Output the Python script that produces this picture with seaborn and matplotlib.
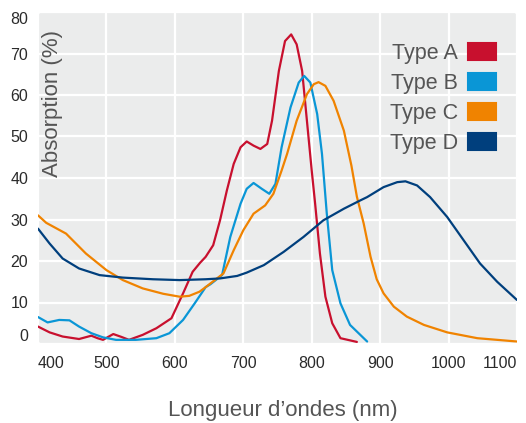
import matplotlib
matplotlib.use("Agg")
import matplotlib.pyplot as plt
from matplotlib import font_manager
from matplotlib.patches import Patch, FancyBboxPatch
import seaborn as sns
import pandas as pd

# absorption curves (wavelength nm, absorption %)
type_a_x = [400, 417, 436, 460, 478, 487, 495, 510, 522, 533, 553, 573, 595, 612, 626, 637,
            645, 656, 666, 676, 686, 696, 705, 715, 725, 735, 742, 752, 761, 770, 778, 786,
            793, 800, 805, 812, 820, 830, 842, 866]
type_a_y = [4.2, 2.8, 1.8, 1.2, 2.0, 1.4, 1.0, 2.4, 1.7, 1.0, 2.2, 3.8, 6.2, 12.2, 17.4, 19.6,
            21.0, 23.8, 29.8, 37.0, 43.4, 47.4, 48.8, 47.8, 47.0, 48.2, 53.8, 65.8, 73.0, 74.6,
            72.2, 65.8, 53.8, 41.8, 33.8, 21.8, 11.4, 5.0, 1.4, 0.5]

type_b_x = [400, 414, 431, 446, 460, 478, 495, 514, 543, 573, 592, 612, 629, 645, 652, 669,
            681, 696, 705, 715, 727, 738, 747, 756, 769, 781, 789, 798, 808, 815, 822, 830,
            842, 856, 881]
type_b_y = [6.5, 5.2, 5.8, 5.7, 4.2, 2.6, 1.6, 1.0, 1.0, 1.4, 2.6, 5.8, 9.8, 13.7, 14.4, 16.6,
            25.8, 33.8, 37.4, 38.8, 37.4, 36.2, 38.6, 47.4, 57.0, 63.0, 64.6, 63.0, 55.4, 45.8,
            31.5, 17.8, 9.8, 4.6, 0.6]

type_c_x = [400, 412, 441, 470, 500, 524, 553, 583, 607, 621, 636, 645, 652, 671, 686, 700,
            715, 732, 744, 756, 764, 778, 793, 803, 810, 820, 832, 847, 858, 866, 876, 886,
            895, 905, 920, 939, 964, 998, 1042, 1100]
type_c_y = [31.0, 29.2, 26.6, 21.8, 17.8, 15.4, 13.4, 12.1, 11.4, 11.6, 12.6, 13.7, 14.6, 17.0,
            22.6, 27.4, 31.4, 33.4, 36.2, 41.8, 45.8, 53.8, 60.2, 62.6, 63.1, 62.2, 58.6, 51.4,
            43.0, 35.5, 29.0, 21.0, 15.6, 12.2, 9.0, 6.6, 4.6, 2.8, 1.4, 0.6]

type_d_x = [400, 417, 436, 460, 490, 524, 568, 607, 645, 666, 691, 705, 730, 759, 788, 817,
            847, 871, 881, 905, 925, 937, 954, 973, 998, 1022, 1046, 1071, 1100]
type_d_y = [27.8, 24.2, 20.6, 18.2, 16.6, 16.0, 15.6, 15.4, 15.6, 15.8, 16.4, 17.2, 19.0, 22.2,
            25.8, 29.8, 32.6, 34.6, 35.4, 37.8, 39.0, 39.2, 38.2, 35.4, 30.6, 25.0, 19.4, 15.0,
            10.6]

labels = ["Type A", "Type B", "Type C", "Type D"]
colors = ["#c8102e", "#0a96d6", "#f08300", "#003f7d"]

frames = []
for name, xs, ys in zip(labels, [type_a_x, type_b_x, type_c_x, type_d_x],
                        [type_a_y, type_b_y, type_c_y, type_d_y]):
    frames.append(pd.DataFrame({"nm": xs, "abs": ys, "type": name}))
df = pd.concat(frames, ignore_index=True)

sns.set_theme(style="darkgrid")
names = {f.name for f in font_manager.fontManager.ttflist}
family = "Liberation Sans Narrow" if "Liberation Sans Narrow" in names else "Liberation Sans"
plt.rcParams["font.family"] = [family, "DejaVu Sans"]

fig = plt.figure(figsize=(5.26, 4.23), dpi=100)
W, H = 526, 423
ax = fig.add_axes([38 / W, 1 - 344 / H, (517 - 38) / W, (344 - 12) / H])
ax.set_facecolor("none")
# rounded grey panel behind the axes
bg = FancyBboxPatch((38, H - 344), 479, 332, boxstyle="round,pad=0,rounding_size=6",
                    transform=None, facecolor="#ebecec", edgecolor="none", zorder=-5)
fig.patches.append(bg)

sns.lineplot(data=df, x="nm", y="abs", hue="type", palette=colors, hue_order=labels,
             linewidth=1.6, legend=False, ax=ax, solid_joinstyle="round",
             solid_capstyle="round")

ax.set_xlim(400, 1100)
ax.set_ylim(0, 80)
ax.set_xticks(range(400, 1101, 100))
ax.set_yticks(range(0, 81, 10))
ax.grid(color="white", linewidth=1.6)
for s in ax.spines.values():
    s.set_visible(False)
ax.tick_params(axis="both", length=0, labelsize=11.5, colors="#2b2b2b")
ax.tick_params(axis="x", pad=9)
ax.tick_params(axis="y", pad=7)
xl = ax.get_xticklabels()
xl[0].set_ha("left")
xl[-1].set_ha("right")
yl = ax.get_yticklabels()
yl[0].set_va("bottom")
yl[-1].set_va("top")
ax.set_xlabel("")
ax.set_ylabel("")

ax.text(0.03, 0.946, "Absorption (%)", rotation=90, ha="center", va="top",
        transform=ax.transAxes, fontsize=16, color="#555555")
fig.text(283 / W, 1 - 410 / H, "Longueur d\u2019ondes (nm)", ha="center", va="center",
         fontsize=16, color="#555555")

handles = [Patch(facecolor=c, edgecolor=c, linewidth=1.5, joinstyle="round") for c in colors]
ax.legend(handles, labels, loc="upper right", bbox_to_anchor=((496 - 38) / 479, (344 - 43) / 332),
          frameon=False, markerfirst=False, fontsize=15.5, labelcolor="#555555",
          handlelength=1.3, handleheight=0.8, handletextpad=0.45, labelspacing=0.42,
          borderpad=0, borderaxespad=0)

fig.savefig("out.png", dpi=100)
